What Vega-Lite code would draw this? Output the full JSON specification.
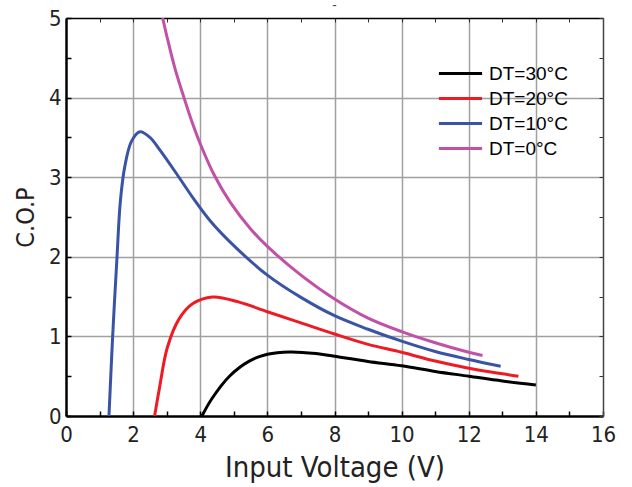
{
  "$schema": "https://vega.github.io/schema/vega-lite/v6.json",
  "width": 537,
  "height": 398,
  "autosize": "none",
  "padding": {"left": 66, "top": 18, "right": 29, "bottom": 71},
  "background": "white",
  "title": {"text": "–", "fontSize": 8, "color": "#444", "offset": -3, "font": "DejaVu Sans"},
  "config": {"view": {"stroke": null}},
  "data": {"values": [
    {"series": "DT=30°C", "V": 4.05, "COP": 0},
    {"series": "DT=30°C", "V": 4.35, "COP": 0.22},
    {"series": "DT=30°C", "V": 4.87, "COP": 0.5},
    {"series": "DT=30°C", "V": 5.46, "COP": 0.69},
    {"series": "DT=30°C", "V": 6.0, "COP": 0.775},
    {"series": "DT=30°C", "V": 6.66, "COP": 0.805},
    {"series": "DT=30°C", "V": 7.45, "COP": 0.785},
    {"series": "DT=30°C", "V": 8.0, "COP": 0.75},
    {"series": "DT=30°C", "V": 9.0, "COP": 0.685},
    {"series": "DT=30°C", "V": 10.0, "COP": 0.63},
    {"series": "DT=30°C", "V": 11.0, "COP": 0.56},
    {"series": "DT=30°C", "V": 12.0, "COP": 0.5},
    {"series": "DT=30°C", "V": 13.0, "COP": 0.44},
    {"series": "DT=30°C", "V": 14.0, "COP": 0.39},
    {"series": "DT=20°C", "V": 2.64, "COP": 0},
    {"series": "DT=20°C", "V": 2.78, "COP": 0.34},
    {"series": "DT=20°C", "V": 3.02, "COP": 0.86},
    {"series": "DT=20°C", "V": 3.37, "COP": 1.22},
    {"series": "DT=20°C", "V": 3.77, "COP": 1.41},
    {"series": "DT=20°C", "V": 4.37, "COP": 1.495},
    {"series": "DT=20°C", "V": 5.16, "COP": 1.43},
    {"series": "DT=20°C", "V": 6.0, "COP": 1.31},
    {"series": "DT=20°C", "V": 7.0, "COP": 1.17},
    {"series": "DT=20°C", "V": 8.0, "COP": 1.03},
    {"series": "DT=20°C", "V": 9.0, "COP": 0.9},
    {"series": "DT=20°C", "V": 10.0, "COP": 0.8},
    {"series": "DT=20°C", "V": 11.0, "COP": 0.69},
    {"series": "DT=20°C", "V": 12.0, "COP": 0.6},
    {"series": "DT=20°C", "V": 13.0, "COP": 0.53},
    {"series": "DT=20°C", "V": 13.48, "COP": 0.5},
    {"series": "DT=10°C", "V": 1.28, "COP": 0},
    {"series": "DT=10°C", "V": 1.39, "COP": 1.0},
    {"series": "DT=10°C", "V": 1.52, "COP": 2.0},
    {"series": "DT=10°C", "V": 1.62, "COP": 2.7},
    {"series": "DT=10°C", "V": 1.75, "COP": 3.13},
    {"series": "DT=10°C", "V": 1.95, "COP": 3.45},
    {"series": "DT=10°C", "V": 2.2, "COP": 3.57},
    {"series": "DT=10°C", "V": 2.5, "COP": 3.5},
    {"series": "DT=10°C", "V": 2.8, "COP": 3.34},
    {"series": "DT=10°C", "V": 3.3, "COP": 3.04},
    {"series": "DT=10°C", "V": 3.8, "COP": 2.73},
    {"series": "DT=10°C", "V": 4.3, "COP": 2.45},
    {"series": "DT=10°C", "V": 5.0, "COP": 2.14},
    {"series": "DT=10°C", "V": 6.0, "COP": 1.77},
    {"series": "DT=10°C", "V": 7.0, "COP": 1.49},
    {"series": "DT=10°C", "V": 8.0, "COP": 1.26},
    {"series": "DT=10°C", "V": 9.0, "COP": 1.09},
    {"series": "DT=10°C", "V": 10.0, "COP": 0.94},
    {"series": "DT=10°C", "V": 11.0, "COP": 0.81},
    {"series": "DT=10°C", "V": 12.0, "COP": 0.71},
    {"series": "DT=10°C", "V": 12.95, "COP": 0.625},
    {"series": "DT=0°C", "V": 2.88, "COP": 5.0},
    {"series": "DT=0°C", "V": 3.0, "COP": 4.78},
    {"series": "DT=0°C", "V": 3.25, "COP": 4.36},
    {"series": "DT=0°C", "V": 3.5, "COP": 4.02},
    {"series": "DT=0°C", "V": 3.75, "COP": 3.7},
    {"series": "DT=0°C", "V": 4.0, "COP": 3.42},
    {"series": "DT=0°C", "V": 4.4, "COP": 3.04},
    {"series": "DT=0°C", "V": 4.9, "COP": 2.68},
    {"series": "DT=0°C", "V": 5.5, "COP": 2.35},
    {"series": "DT=0°C", "V": 6.0, "COP": 2.13},
    {"series": "DT=0°C", "V": 7.0, "COP": 1.77},
    {"series": "DT=0°C", "V": 8.0, "COP": 1.47},
    {"series": "DT=0°C", "V": 9.0, "COP": 1.23},
    {"series": "DT=0°C", "V": 10.0, "COP": 1.06},
    {"series": "DT=0°C", "V": 11.0, "COP": 0.92},
    {"series": "DT=0°C", "V": 12.0, "COP": 0.8},
    {"series": "DT=0°C", "V": 12.41, "COP": 0.76}
  ]},
  "resolve": {"axis": {"x": "independent", "y": "independent"}},
  "layer": [
    {
      "mark": {"type": "line", "interpolate": "catmull-rom", "strokeWidth": 3, "clip": true},
      "encoding": {
        "x": {"field": "V", "type": "quantitative",
          "scale": {"domain": [0, 16], "nice": false},
          "axis": {"orient": "bottom", "title": "Input Voltage (V)",
            "values": [0,1,2,3,4,5,6,7,8,9,10,11,12,13,14,15,16],
            "labelExpr": "datum.value % 2 === 0 ? format(datum.value, 'd') : ''",
            "labelFont": "DejaVu Sans Condensed", "labelFontSize": 22, "labelColor": "#222",
            "labelPadding": 13, "labelFlush": false, "labelOverlap": false,
            "tickSize": -5, "tickColor": "black", "tickWidth": 1.5,
            "domainColor": "black", "domainWidth": 2.5,
            "grid": true, "gridColor": "#a0a0a0", "gridWidth": 1.5,
            "gridOpacity": {"condition": {"test": "datum.value % 2 === 0 && datum.value > 0 && datum.value < 16", "value": 1}, "value": 0},
            "titleFont": "DejaVu Sans Condensed", "titleFontSize": 29, "titleFontWeight": "normal", "titleColor": "#222", "titlePadding": 8}},
        "y": {"field": "COP", "type": "quantitative",
          "scale": {"domain": [0, 5], "nice": false},
          "axis": {"orient": "left", "title": "C.O.P",
            "values": [0,0.5,1,1.5,2,2.5,3,3.5,4,4.5,5],
            "labelExpr": "datum.value % 1 === 0 ? format(datum.value, 'd') : ''",
            "labelFont": "DejaVu Sans Condensed", "labelFontSize": 22, "labelColor": "#222",
            "labelPadding": 10, "labelFlush": false, "labelOverlap": false,
            "tickSize": -5, "tickColor": "black", "tickWidth": 1.5,
            "domainColor": "black", "domainWidth": 2.5,
            "grid": true, "gridColor": "#a0a0a0", "gridWidth": 1.5,
            "gridOpacity": {"condition": {"test": "datum.value % 1 === 0 && datum.value > 0 && datum.value < 5", "value": 1}, "value": 0},
            "titleFont": "DejaVu Sans Condensed", "titleFontSize": 25, "titleFontWeight": "normal", "titleColor": "#222", "titlePadding": 10}},
        "color": {"field": "series", "type": "nominal",
          "scale": {"domain": ["DT=30°C", "DT=20°C", "DT=10°C", "DT=0°C"], "range": ["#000000", "#ed1c24", "#3a53a4", "#c151a7"]},
          "legend": {"orient": "none", "legendX": 381, "legendY": 42, "title": null, "padding": 0,
            "symbolType": "M-1.8,0H1.8", "symbolSize": 576, "symbolStrokeWidth": 3,
            "labelOffset": 15, "labelFont": "Liberation Sans", "labelFontSize": 19, "labelColor": "black",
            "rowPadding": 1}}
      }
    },
    {
      "mark": {"type": "line", "opacity": 0},
      "encoding": {
        "x": {"field": "V", "type": "quantitative",
          "axis": {"orient": "top", "title": null, "labels": false, "grid": false,
            "values": [0,1,2,3,4,5,6,7,8,9,10,11,12,13,14,15,16],
            "tickSize": -4, "tickColor": "#333", "tickWidth": 1,
            "domainColor": "black", "domainWidth": 1.5}},
        "y": {"field": "COP", "type": "quantitative",
          "axis": {"orient": "right", "title": null, "labels": false, "grid": false,
            "values": [0,0.5,1,1.5,2,2.5,3,3.5,4,4.5,5],
            "tickSize": -4, "tickColor": "#333", "tickWidth": 1,
            "domainColor": "#444", "domainWidth": 1.5}}
      }
    }
  ]
}
